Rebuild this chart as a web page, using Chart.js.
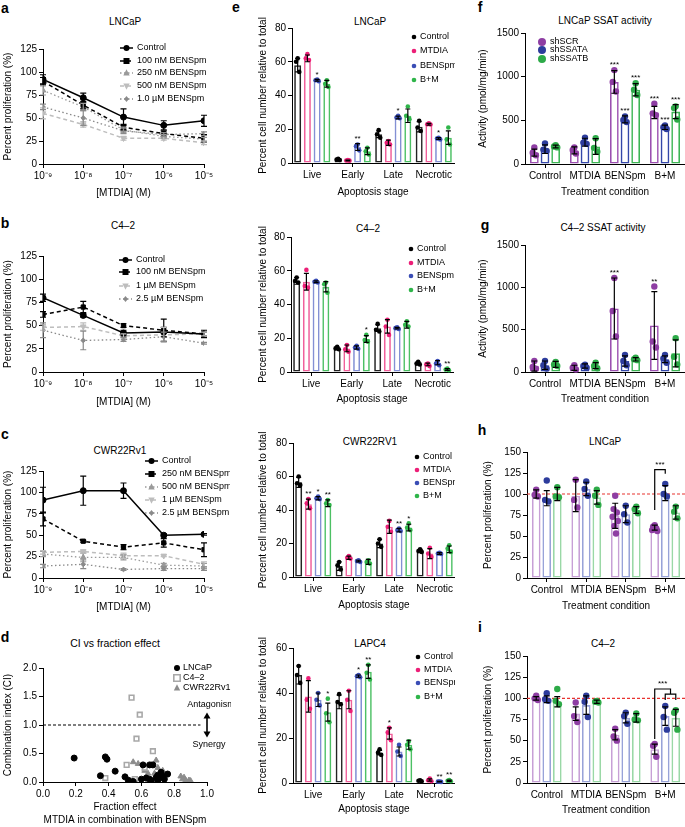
<!DOCTYPE html>
<html>
<head>
<meta charset="utf-8">
<script src="https://cdn.jsdelivr.net/npm/chart.js@4.4.0/dist/chart.umd.min.js"></script>
<style>
body { margin:0; background:#fff; width:685px; height:827px; position:relative; overflow:hidden; font-family:"Liberation Sans", Arial, sans-serif; color:#000; }
canvas { position:absolute; }
.lbl { position:absolute; font-weight:bold; font-size:14px; transform:translate(-50%,-50%); }
.ttl { position:absolute; font-size:10px; transform:translate(-50%,-50%); white-space:nowrap; }
</style>
</head>
<body>
<div class="lbl" style="left:5px;top:8px">a</div>
<div class="lbl" style="left:5px;top:223px">b</div>
<div class="lbl" style="left:5px;top:434px">c</div>
<div class="lbl" style="left:5px;top:637px">d</div>
<div class="lbl" style="left:236px;top:7px">e</div>
<div class="lbl" style="left:480px;top:7px">f</div>
<div class="lbl" style="left:485px;top:225px">g</div>
<div class="lbl" style="left:482px;top:430px">h</div>
<div class="lbl" style="left:480px;top:627px">i</div>

<div class="ttl" style="left:125px;top:21px">LNCaP</div>
<div class="ttl" style="left:123px;top:225px">C4–2</div>
<div class="ttl" style="left:120px;top:450px">CWR22Rv1</div>
<div class="ttl" style="left:115px;top:643px;font-size:10.5px">CI vs fraction effect</div>
<div class="ttl" style="left:370px;top:21px">LNCaP</div>
<div class="ttl" style="left:368px;top:228px">C4–2</div>
<div class="ttl" style="left:370px;top:441px">CWR22RV1</div>
<div class="ttl" style="left:370px;top:643px">LAPC4</div>
<div class="ttl" style="left:605px;top:20px">LNCaP SSAT activity</div>
<div class="ttl" style="left:603px;top:227px">C4–2 SSAT activity</div>
<div class="ttl" style="left:605px;top:441px">LNCaP</div>
<div class="ttl" style="left:603px;top:643px">C4–2</div>

<script>
// ---- a-c: proliferation vs MTDIA dose ----
const doses = [1e-9, 1e-8, 1e-7, 1e-6, 1e-5];
const doseLabels = ['10⁻⁹', '10⁻⁸', '10⁻⁷', '10⁻⁶', '10⁻⁵'];

const lncapSeries = ['Control', '100 nM BENSpm', '250 nM BENSpm', '500 nM BENSpm', '1.0 µM BENSpm'];
const lncapMean = [
    [92, 72, 51, 42, 47],
    [90, 64, 40, 33, 28],
    [80, 62, 37, 30, 27],
    [55, 43, 28, 28, 23],
    [62, 50, 36, 32, 33]
];
const lncapErr = [
    [5, 5, 9, 5, 6],
    [4, 4, 3, 3, 4],
    [5, 4, 3, 2, 2],
    [6, 3, 2, 2, 2],
    [3, 8, 3, 2, 2]
];

const c42Series = ['Control', '100 nM BENSpm', '1 µM BENSpm', '2.5 µM BENSpm'];
const c42Mean = [
    [80, 61, 42, 43, 41],
    [62, 70, 50, 45, 41],
    [48, 49, 39, 40, 41],
    [45, 34, 35, 38, 31]
];
const c42Err = [
    [4, 2, 3, 5, 2],
    [3, 6, 2, 12, 4],
    [3, 4, 2, 8, 2],
    [8, 10, 2, 5, 1]
];

const cwrSeries = ['Control', '250 nM BENSpm', '500 nM BENSpm', '1 µM BENSpm', '2.5 µM BENSpm'];
const cwrMean = [
    [91, 102, 102, 50, 51],
    [69, 43, 36, 41, 33],
    [28, 24, 24, 15, 14],
    [30, 31, 26, 26, 16],
    [14, 16, 10, 11, 11]
];
const cwrErr = [
    [15, 17, 9, 2, 1],
    [8, 1, 3, 5, 8],
    [3, 5, 3, 2, 3],
    [2, 2, 3, 1, 3],
    [2, 5, 1, 2, 2]
];

// ---- d: combination index vs fraction effect ----
const ciLncapFe = [0.19, 0.35, 0.38, 0.39, 0.44, 0.50, 0.52, 0.55, 0.60, 0.61, 0.63, 0.65, 0.65, 0.66, 0.67, 0.69, 0.70, 0.71, 0.72, 0.73, 0.74, 0.76, 0.70, 0.72];
const ciLncapCi = [0.42, 0.11, 0.44, 0.40, 0.19, 0.09, 0.03, 0.01, 0.05, 0.30, 0.07, 0.30, 0.05, 0.02, 0.30, 0.08, 0.12, 0.07, 0.13, 0.10, 0.05, 0.14, 0.03, 0.17];
const ciC42Fe = [0.38, 0.51, 0.52, 0.53, 0.54, 0.56, 0.57, 0.59, 0.62, 0.67, 0.64, 0.66];
const ciC42Ci = [0.07, 0.30, 0.03, 0.01, 1.48, 0.05, 0.76, 1.18, 0.25, 0.54, 0.04, 0.03];
const ciCwrFe = [0.55, 0.58, 0.62, 0.64, 0.66, 0.68, 0.69, 0.70, 0.72, 0.73, 0.75, 0.84, 0.85, 0.86, 0.87, 0.89, 0.90];
const ciCwrCi = [0.35, 0.32, 0.20, 0.15, 0.30, 0.15, 0.38, 0.25, 0.10, 0.20, 0.12, 0.10, 0.05, 0.08, 0.03, 0.03, 0.02];

// ---- e: apoptosis stage ----
const stages = ['Live', 'Early', 'Late', 'Necrotic'];
const treatments = ['Control', 'MTDIA', 'BENSpm', 'B+M'];

const eLncapMean = [[58, 2, 17, 21.5], [62, 1.5, 12, 23], [49, 9.5, 27, 14.5], [47, 7, 28, 15]];
const eLncapErr = [[4, 0.5, 2, 3], [2, 0.2, 1.5, 0.5], [0.5, 2, 0.8, 0.5], [2, 2, 4, 4]];
const eLncapPts = [
    [[62, 60, 54], [2.5, 2, 1.8], [19.5, 17, 15], [25, 21, 19]],
    [[64.5, 62, 61], [1.7, 1.5, 1.4], [13, 12, 11], [23.5, 23, 22.8]],
    [[49.5, 49, 48.5], [11, 10, 7.5], [28, 27, 26.5], [15, 14.5, 14]],
    [[49, 47, 45], [9, 7, 5], [33.5, 28, 26], [21, 14, 11]]
];
const eLncapStars = [['', '', '', ''], ['', '', '', ''], ['*', '**', '*', '*'], ['', '', '', '']];

const eC42Mean = [[54, 14, 26, 5], [53.5, 14, 27, 4.5], [53.5, 14.5, 26, 5.5], [50.5, 19.5, 28, 1.5]];
const eC42Err = [[2, 0.8, 2, 0.8], [5, 2, 4, 0.8], [0.5, 1, 0.5, 1.2], [3, 2, 2, 0.5]];
const eC42Pts = [
    [[56, 54, 53], [15, 14, 13.5], [28.5, 25, 24], [6, 5, 4.5]],
    [[60.5, 51, 50], [16, 13.5, 12], [31, 27, 22], [5, 4.5, 3.5]],
    [[54, 53.5, 53], [15.5, 14.5, 13.8], [26.5, 26, 25.5], [6.5, 5, 4]],
    [[53, 52, 47], [22, 19, 18], [30, 28, 27], [2, 1.5, 1]]
];
const eC42Stars = [['', '', '', ''], ['', '', '', ''], ['', '', '', ''], ['', '*', '', '**']];

const eCwrMean = [[56.5, 6.5, 20, 15.5], [43.5, 11.5, 30, 14], [47, 9.5, 28, 14], [44, 9, 29.5, 16.5]];
const eCwrErr = [[3, 2.5, 2.5, 1], [3, 1, 4, 3], [1, 0.5, 1, 0.5], [2, 1.5, 2, 2]];
const eCwrPts = [
    [[60, 56, 55], [9, 7, 4.5], [22.5, 20, 18], [16.5, 15.5, 15]],
    [[46.5, 44, 41], [12.5, 11.5, 11], [33.5, 30, 27], [17.5, 14, 12]],
    [[48, 47, 46.5], [10, 9.5, 9], [29, 28, 27.5], [14.5, 14, 13.8]],
    [[46, 44, 43], [10, 9, 8], [32, 29.5, 28], [19, 17, 15]]
];
const eCwrStars = [['', '', '', ''], ['**', '', '', ''], ['*', '', '**', ''], ['**', '', '*', '']];

const eLapcMean = [[48, 36, 13.5, 1], [38.5, 37, 22, 1.3], [37, 47.5, 14, 0.6], [31.5, 49.5, 17, 1]];
const eLapcErr = [[4, 3, 1, 0.2], [7, 4, 2.5, 0.5], [3, 0.5, 2, 0.1], [4, 3, 2, 0.3]];
const eLapcPts = [
    [[52, 48, 44.5], [39.5, 36, 35], [15, 13.5, 12.5], [1.2, 1, 0.8]],
    [[46.5, 37, 33], [41, 37, 32], [24.5, 22.5, 19], [2, 1.2, 0.8]],
    [[40, 37, 34.5], [48, 47.5, 47], [17, 14, 12], [0.7, 0.6, 0.5]],
    [[37.5, 31, 27], [52.5, 49, 46], [18.5, 17, 15], [1.3, 1, 0.8]]
];
const eLapcStars = [['', '', '', ''], ['', '', '*', ''], ['', '*', '', '**'], ['*', '**', '', '**']];

// ---- f-i: SSAT knockdown ----
const conditions = ['Control', 'MTDIA', 'BENSpm', 'B+M'];
const shLines = ['shSCR', 'shSSATA', 'shSSATB'];

const fMean = [[130, 155, 940, 590], [170, 250, 510, 420], [200, 200, 850, 600]];
const fErr = [[40, 40, 130, 70], [50, 45, 40, 25], [15, 90, 70, 80]];
const fPts = [
    [[190, 130, 100], [190, 160, 120], [1075, 940, 830], [690, 580, 560]],
    [[235, 165, 150], [300, 245, 230], [545, 505, 480], [440, 420, 400]],
    [[215, 200, 190], [295, 185, 140], [925, 850, 790], [660, 640, 510]]
];
const fStars = [['', '', '***', '***'], ['', '', '***', '***'], ['', '', '***', '***']];

const gMean = [[70, 50, 750, 550], [80, 70, 130, 150], [90, 75, 150, 220]];
const gErr = [[60, 30, 360, 400], [50, 25, 60, 40], [35, 35, 20, 160]];
const gPts = [
    [[130, 60, 40], [80, 50, 30], [1110, 720, 420], [1010, 360, 290]],
    [[130, 80, 40], [85, 70, 50], [200, 130, 80], [200, 160, 110]],
    [[120, 90, 70], [110, 70, 45], [170, 150, 140], [400, 180, 90]]
];
const gStars = [['', '', '***', '**'], ['', '', '', ''], ['', '', '', '']];

const hMean = [[100, 98, 74, 60], [95, 106, 76, 101], [100, 96, 81, 78]];
const hErr = [[5, 19, 15, 3], [9, 8, 10, 9], [8, 8, 4, 8]];
const hPts = [
    [[105, 99, 97], [117, 93, 84], [98, 82, 78, 73, 68, 62, 53], [63, 61, 59, 57, 56]],
    [[116, 93, 91], [115, 106, 98], [86, 76, 66], [112, 100, 97]],
    [[108, 97, 96], [105, 98, 87], [85, 82, 77], [85, 79, 71]]
];

const iMean = [[100, 82, 57, 40], [99, 92, 77, 79], [96, 96, 77, 77]];
const iErr = [[2, 8, 6, 6], [4, 11, 6, 11], [6, 2, 5, 10]];
const iPts = [
    [[103, 100, 98], [95, 79, 72], [64, 55, 50], [46, 44, 31]],
    [[106, 99, 97], [103, 96, 78], [83, 79, 70], [91, 78, 63]],
    [[111, 97, 93], [97, 96, 95], [82, 75, 74], [86, 83, 63]]
];

// ---- styling ----
const FONT = '"Liberation Sans", Arial, sans-serif';
Chart.defaults.font.family = FONT;
Chart.defaults.font.size = 10;
Chart.defaults.color = '#000';
Chart.defaults.animation = false;
Chart.defaults.plugins.legend.display = false;
Chart.defaults.plugins.tooltip.enabled = false;

const lineStyles = {
    ctrl: {color: '#000', dash: [], point: 'circle', r: 3, rot: 0, w: 1.5},
    sq: {color: '#000', dash: [4, 3], point: 'rect', r: 3, rot: 0, w: 1.5},
    tri: {color: '#9a9a9a', dash: [1.5, 2.5], point: 'triangle', r: 3.2, rot: 0, w: 1.3},
    dtri: {color: '#bdbdbd', dash: [4, 3], point: 'triangle', r: 3.2, rot: 180, w: 1.5},
    star: {color: '#8a8a8a', dash: [1.5, 2.5], point: 'rectRot', r: 2.4, rot: 0, w: 1.3}
};
const eDot = ['#000', '#ec1f77', '#3a4db5', '#2fb54a'];
const eBar = ['#222', '#f0609b', '#8390d4', '#4cc064'];
const shDot = ['#8e3ea3', '#2d3c9c', '#2daa48'];
const shBarDark = ['#9b4fb0', '#3447a8', '#3cb554'];
const shBarLight = ['#c7a0d6', '#98a3d8', '#9ad8a6'];
const jitter = [0, -1.6, 1.6, -2.6, 2.6, -0.8, 0.8];

function mkCanvas(r) {
    const c = document.createElement('canvas');
    c.width = r.w; c.height = r.h;
    c.style.left = r.x + 'px'; c.style.top = r.y + 'px';
    c.style.width = r.w + 'px'; c.style.height = r.h + 'px';
    document.body.appendChild(c);
    return c;
}

function frame(r, p) {
    return {
        padding: {left: 0, top: p.t - r.y, right: r.x + r.w - p.r, bottom: 0},
        yW: p.l - r.x,
        xH: r.y + r.h - p.b
    };
}

function axisBase() {
    return {
        grid: {drawOnChartArea: false, drawTicks: true, tickLength: 4, color: '#000', lineWidth: 1},
        border: {display: true, color: '#000', width: 1},
        ticks: {color: '#000', font: {size: 10}, padding: 2, autoSkip: false, maxRotation: 0}
    };
}

function yAxis(fr, max, step, title, fmt) {
    const a = axisBase();
    a.min = 0; a.max = max;
    a.ticks.stepSize = step;
    a.ticks.callback = fmt || (v => String(v));
    a.title = {display: true, text: title, font: {size: 10}, padding: {top: 2, bottom: 0}};
    a.afterFit = s => { s.width = fr.yW; };
    return a;
}

function catAxis(fr, title) {
    const a = axisBase();
    a.type = 'category';
    a.offset = true;
    a.grid.offset = false;
    a.title = {display: true, text: title, font: {size: 10}, padding: {top: 0, bottom: 2}};
    a.afterFit = s => { s.height = fr.xH; };
    return a;
}

function marker(ctx, style, r, rot, x, y, fill, stroke, lw) {
    ctx.save();
    ctx.translate(x, y);
    ctx.rotate(rot * Math.PI / 180);
    ctx.beginPath();
    if (style === 'circle') ctx.arc(0, 0, r, 0, Math.PI * 2);
    else if (style === 'rect') ctx.rect(-r, -r, 2 * r, 2 * r);
    else if (style === 'triangle') { ctx.moveTo(0, -r * 1.15); ctx.lineTo(r, r * 0.75); ctx.lineTo(-r, r * 0.75); ctx.closePath(); }
    else if (style === 'rectRot') { ctx.moveTo(0, -r * 1.3); ctx.lineTo(r, 0); ctx.lineTo(0, r * 1.3); ctx.lineTo(-r, 0); ctx.closePath(); }
    if (fill) { ctx.fillStyle = fill; ctx.fill(); }
    if (stroke) { ctx.strokeStyle = stroke; ctx.lineWidth = lw; ctx.stroke(); }
    ctx.restore();
}

function drawErrors(chart, color, cap) {
    const ctx = chart.ctx, ys = chart.scales.y;
    chart.data.datasets.forEach((ds, di) => {
        const meta = chart.getDatasetMeta(di);
        ctx.save();
        ctx.strokeStyle = color || ds.borderColor;
        ctx.lineWidth = 1.2;
        meta.data.forEach((el, i) => {
            const e = ds.errors[i];
            if (!e) return;
            const y1 = ys.getPixelForValue(ds.vals[i] - e);
            const y2 = ys.getPixelForValue(ds.vals[i] + e);
            ctx.beginPath();
            ctx.moveTo(el.x, y1); ctx.lineTo(el.x, y2);
            ctx.moveTo(el.x - cap, y1); ctx.lineTo(el.x + cap, y1);
            ctx.moveTo(el.x - cap, y2); ctx.lineTo(el.x + cap, y2);
            ctx.stroke();
        });
        ctx.restore();
    });
}

function drawDots(chart, pts, colors, rad) {
    const ctx = chart.ctx, ys = chart.scales.y;
    chart.data.datasets.forEach((ds, di) => {
        chart.getDatasetMeta(di).data.forEach((bar, j) => {
            pts[di][j].forEach((v, k) => {
                marker(ctx, 'circle', rad, 0, bar.x + jitter[k % jitter.length], ys.getPixelForValue(v), colors[di]);
            });
        });
    });
}

function drawStars(chart, pts, stars) {
    const ctx = chart.ctx, ys = chart.scales.y;
    ctx.save();
    ctx.fillStyle = '#000';
    ctx.font = '8px ' + FONT;
    ctx.textAlign = 'center';
    ctx.textBaseline = 'bottom';
    chart.data.datasets.forEach((ds, di) => {
        chart.getDatasetMeta(di).data.forEach((bar, j) => {
            const s = stars[di][j];
            if (!s) return;
            const top = Math.max(ds.vals[j] + ds.errors[j], Math.max.apply(null, pts[di][j]));
            ctx.fillText(s, bar.x, ys.getPixelForValue(top) - 1);
        });
    });
    ctx.restore();
}

function drawDotLegend(chart, r, lg, names, colors) {
    const ctx = chart.ctx;
    ctx.save();
    ctx.font = lg.font + 'px ' + FONT;
    ctx.textBaseline = 'middle';
    ctx.textAlign = 'left';
    names.forEach((n, i) => {
        const y = lg.ys[i] - r.y;
        marker(ctx, 'circle', lg.r, 0, lg.x - r.x, y, colors[i]);
        ctx.fillStyle = '#000';
        ctx.fillText(n, lg.tx - r.x, y);
    });
    ctx.restore();
}

function drawLineLegend(chart, r, lg) {
    const ctx = chart.ctx;
    chart.data.datasets.forEach((ds, i) => {
        const st = ds.sty, y = lg.ys[i] - r.y, x1 = lg.x1 - r.x, x2 = lg.x2 - r.x;
        ctx.save();
        ctx.strokeStyle = st.color;
        ctx.lineWidth = st.w;
        ctx.setLineDash(st.dash);
        ctx.beginPath(); ctx.moveTo(x1, y); ctx.lineTo(x2, y); ctx.stroke();
        ctx.setLineDash([]);
        marker(ctx, st.point, st.r, st.rot, (x1 + x2) / 2, y, st.color);
        ctx.fillStyle = '#000';
        ctx.font = '9px ' + FONT;
        ctx.textBaseline = 'middle';
        ctx.fillText(ds.label, lg.tx - r.x, y);
        ctx.restore();
    });
}

function doseChart(r, p, series, means, errs, styleKeys, lg) {
    const fr = frame(r, p);
    const datasets = series.map((name, i) => {
        const st = lineStyles[styleKeys[i]];
        return {
            label: name,
            data: doses.map((x, j) => ({x: x, y: means[i][j]})),
            vals: means[i],
            errors: errs[i],
            sty: st,
            borderColor: st.color,
            backgroundColor: st.color,
            borderDash: st.dash,
            borderWidth: st.w,
            pointStyle: st.point,
            pointRadius: st.r,
            pointRotation: st.rot,
            pointBackgroundColor: st.color,
            pointBorderColor: st.color,
            pointBorderWidth: 1,
            tension: 0
        };
    });
    const x = axisBase();
    x.type = 'logarithmic';
    x.min = 1e-9; x.max = 1e-5;
    x.afterBuildTicks = s => { s.ticks = doses.map(v => ({value: v})); };
    x.ticks.callback = (v, i) => doseLabels[i];
    x.title = {display: true, text: '[MTDIA] (M)', font: {size: 10}, padding: {top: 0, bottom: 2}};
    x.afterFit = s => { s.height = fr.xH; };

    new Chart(mkCanvas(r), {
        type: 'line',
        data: {datasets: datasets},
        options: {
            responsive: false,
            layout: {padding: fr.padding},
            scales: {x: x, y: yAxis(fr, 125, 25, 'Percent proliferation (%)')}
        },
        plugins: [{
            id: 'extras',
            afterDatasetsDraw(chart) {
                drawErrors(chart, null, 3);
                drawLineLegend(chart, r, lg);
            }
        }]
    });
}

function barChart(o) {
    const fr = frame(o.r, o.p);
    const datasets = o.names.map((n, i) => ({
        label: n,
        data: o.mean[i],
        vals: o.mean[i],
        errors: o.err[i],
        backgroundColor: 'rgba(255,255,255,0)',
        borderColor: o.barColors[i],
        borderWidth: 1.6,
        borderSkipped: false,
        categoryPercentage: o.catPct,
        barPercentage: o.barPct
    }));
    new Chart(mkCanvas(o.r), {
        type: 'bar',
        data: {labels: o.cats, datasets: datasets},
        options: {
            responsive: false,
            layout: {padding: fr.padding},
            scales: {x: catAxis(fr, o.xTitle), y: yAxis(fr, o.yMax, o.yStep, o.yTitle)}
        },
        plugins: [{
            id: 'extras',
            afterDatasetsDraw(chart) {
                if (o.before) o.before(chart);
                drawDots(chart, o.pts, o.dotColors, o.dotR);
                drawErrors(chart, '#000', o.cap);
                if (o.stars) drawStars(chart, o.pts, o.stars);
                drawDotLegend(chart, o.r, o.legend, o.names, o.dotColors);
                if (o.after) o.after(chart);
            }
        }]
    });
}

// ---- a, b, c ----
doseChart({x: 0, y: 30, w: 230, h: 171}, {l: 43, t: 49, r: 204, b: 164},
    lncapSeries, lncapMean, lncapErr, ['ctrl', 'sq', 'tri', 'dtri', 'star'],
    {x1: 120, x2: 133, tx: 137, ys: [48, 61, 73, 86, 99]});

doseChart({x: 0, y: 240, w: 230, h: 170}, {l: 43, t: 256, r: 204, b: 372},
    c42Series, c42Mean, c42Err, ['ctrl', 'sq', 'dtri', 'star'],
    {x1: 119, x2: 132, tx: 136, ys: [260, 272, 286, 299]});

doseChart({x: 0, y: 455, w: 230, h: 160}, {l: 43, t: 471, r: 204, b: 578},
    cwrSeries, cwrMean, cwrErr, ['ctrl', 'sq', 'tri', 'dtri', 'star'],
    {x1: 145, x2: 158, tx: 162, ys: [461, 474, 487, 500, 513]});

// ---- d ----
(function () {
    const r = {x: 0, y: 655, w: 231, h: 172}, p = {l: 43, t: 668, r: 207, b: 782};
    const fr = frame(r, p);
    const toXY = (xs, ys) => xs.map((v, i) => ({x: v, y: ys[i]}));
    const x = axisBase();
    x.type = 'linear'; x.min = 0; x.max = 1;
    x.ticks.stepSize = 0.2;
    x.ticks.callback = v => v.toFixed(1);
    x.title = {display: true, text: ['Fraction effect', 'MTDIA in combination with BENSpm'],
        font: {size: 10, lineHeight: 1.3}, padding: {top: 0, bottom: 0}};
    x.afterFit = s => { s.height = fr.xH; };
    const y = yAxis(fr, 2, 0.5, 'Combination index (CI)', v => v.toFixed(1));
    const sets = [
        {label: 'LNCaP', data: toXY(ciLncapFe, ciLncapCi), pointStyle: 'circle', pointRadius: 3,
            pointBackgroundColor: '#000', pointBorderColor: '#000', pointBorderWidth: 1},
        {label: 'C4–2', data: toXY(ciC42Fe, ciC42Ci), pointStyle: 'rect', pointRadius: 3.3,
            pointBackgroundColor: '#fff', pointBorderColor: '#a8a8a8', pointBorderWidth: 1.6},
        {label: 'CWR22Rv1', data: toXY(ciCwrFe, ciCwrCi), pointStyle: 'triangle', pointRadius: 3.3,
            pointBackgroundColor: '#8c8c8c', pointBorderColor: '#8c8c8c', pointBorderWidth: 1}
    ];
    new Chart(mkCanvas(r), {
        type: 'scatter',
        data: {datasets: sets},
        options: {responsive: false, layout: {padding: fr.padding}, scales: {x: x, y: y}},
        plugins: [{
            id: 'extras',
            beforeDatasetsDraw(chart) {
                const ctx = chart.ctx, xs = chart.scales.x, ys = chart.scales.y;
                const y1 = ys.getPixelForValue(1);
                ctx.save();
                ctx.strokeStyle = '#000'; ctx.lineWidth = 1.2; ctx.setLineDash([3, 2]);
                ctx.beginPath(); ctx.moveTo(xs.getPixelForValue(0), y1); ctx.lineTo(xs.getPixelForValue(0.96), y1); ctx.stroke();
                ctx.restore();
            },
            afterDatasetsDraw(chart) {
                const ctx = chart.ctx, xs = chart.scales.x, ys = chart.scales.y;
                const ax = xs.getPixelForValue(1), yt = ys.getPixelForValue(1.22), yb = ys.getPixelForValue(0.78);
                ctx.save();
                ctx.strokeStyle = '#000'; ctx.fillStyle = '#000'; ctx.lineWidth = 1.6;
                ctx.beginPath(); ctx.moveTo(ax, yt + 4); ctx.lineTo(ax, yb - 4); ctx.stroke();
                ctx.beginPath(); ctx.moveTo(ax, yt); ctx.lineTo(ax - 3.5, yt + 6); ctx.lineTo(ax + 3.5, yt + 6); ctx.closePath(); ctx.fill();
                ctx.beginPath(); ctx.moveTo(ax, yb); ctx.lineTo(ax - 3.5, yb - 6); ctx.lineTo(ax + 3.5, yb - 6); ctx.closePath(); ctx.fill();
                ctx.font = '9px ' + FONT; ctx.textAlign = 'center'; ctx.textBaseline = 'middle';
                ctx.fillText('Antagonism', ax + 4, ys.getPixelForValue(1.36));
                ctx.fillText('Synergy', ax + 2, ys.getPixelForValue(0.66));
                // legend
                const lx = 177 - r.x, tx = 183 - r.x, lys = [668, 678, 688];
                marker(ctx, 'circle', 3, 0, lx, lys[0] - r.y, '#000');
                marker(ctx, 'rect', 3.2, 0, lx, lys[1] - r.y, '#fff', '#a8a8a8', 1.6);
                marker(ctx, 'triangle', 3.2, 0, lx, lys[2] - r.y, '#8c8c8c');
                ctx.textAlign = 'left'; ctx.fillStyle = '#000';
                sets.forEach((s, i) => ctx.fillText(s.label, tx, lys[i] - r.y));
                ctx.restore();
            }
        }]
    });
})();

// ---- e ----
const eCommon = {cats: stages, names: treatments, dotColors: eDot, barColors: eBar, catPct: 0.96, barPct: 0.72,
    dotR: 2.3, cap: 2.5, xTitle: 'Apoptosis stage', yTitle: 'Percent cell number relative to total', yStep: 20};

barChart(Object.assign({}, eCommon, {
    r: {x: 255, y: 15, w: 200, h: 185}, p: {l: 292, t: 28, r: 454, b: 163}, yMax: 80,
    mean: eLncapMean, err: eLncapErr, pts: eLncapPts, stars: eLncapStars,
    legend: {x: 414, tx: 420, ys: [37, 51, 66, 80], r: 2.3, font: 9}
}));
barChart(Object.assign({}, eCommon, {
    r: {x: 255, y: 225, w: 200, h: 182}, p: {l: 291, t: 237, r: 453, b: 372}, yMax: 80,
    mean: eC42Mean, err: eC42Err, pts: eC42Pts, stars: eC42Stars,
    legend: {x: 411, tx: 417, ys: [249, 263, 276, 290], r: 2.3, font: 9}
}));
barChart(Object.assign({}, eCommon, {
    r: {x: 255, y: 430, w: 200, h: 183}, p: {l: 293, t: 443, r: 455, b: 577}, yMax: 80,
    mean: eCwrMean, err: eCwrErr, pts: eCwrPts, stars: eCwrStars,
    legend: {x: 417, tx: 423, ys: [457, 470, 483, 496], r: 2.3, font: 9}
}));
barChart(Object.assign({}, eCommon, {
    r: {x: 255, y: 635, w: 200, h: 182}, p: {l: 293, t: 648, r: 455, b: 783}, yMax: 60,
    mean: eLapcMean, err: eLapcErr, pts: eLapcPts, stars: eLapcStars,
    legend: {x: 418, tx: 424, ys: [657, 670, 683, 697], r: 2.3, font: 9}
}));

// ---- f-i ----
function refLine(chart) {
    const ctx = chart.ctx, y = chart.scales.y.getPixelForValue(100), a = chart.chartArea;
    ctx.save();
    ctx.strokeStyle = '#e8332f'; ctx.lineWidth = 1.1; ctx.setLineDash([3, 2]);
    ctx.beginPath(); ctx.moveTo(a.left, y); ctx.lineTo(a.right, y); ctx.stroke();
    ctx.restore();
}

function barX(chart, di, j) {
    return chart.getDatasetMeta(di).data[j].x;
}

const shCommon = {cats: conditions, names: shLines, dotColors: shDot, catPct: 0.8, barPct: 0.82,
    dotR: 3.2, cap: 3, xTitle: 'Treatment condition'};
const noLegend = {x: -50, tx: -50, ys: [], r: 0, font: 9};

barChart(Object.assign({}, shCommon, {
    r: {x: 475, y: 15, w: 210, h: 185}, p: {l: 525, t: 33, r: 685, b: 164},
    yMax: 1500, yStep: 500, yTitle: 'Activity (pmol/mg/min)', barColors: shBarDark,
    mean: fMean, err: fErr, pts: fPts, stars: fStars,
    legend: {x: 542, tx: 550, ys: [42, 50, 59], r: 4, font: 9}
}));
barChart(Object.assign({}, shCommon, {
    r: {x: 475, y: 235, w: 210, h: 172}, p: {l: 525, t: 245, r: 685, b: 372},
    yMax: 1500, yStep: 500, yTitle: 'Activity (pmol/mg/min)', barColors: shBarDark,
    mean: gMean, err: gErr, pts: gPts, stars: gStars,
    legend: {x: -50, tx: -50, ys: [-50, -50, -50], r: 0, font: 9}
}));
barChart(Object.assign({}, shCommon, {
    r: {x: 480, y: 440, w: 205, h: 174}, p: {l: 527, t: 452, r: 685, b: 578},
    yMax: 150, yStep: 25, yTitle: 'Percent proliferation (%)', barColors: shBarLight,
    mean: hMean, err: hErr, pts: hPts,
    legend: {x: -50, tx: -50, ys: [-50, -50, -50], r: 0, font: 9},
    before: refLine,
    after(chart) {
        const ctx = chart.ctx, ys = chart.scales.y;
        const x1 = barX(chart, 0, 3), x2 = barX(chart, 1, 3);
        const top = ys.getPixelForValue(129);
        ctx.save();
        ctx.strokeStyle = '#000'; ctx.lineWidth = 1.2;
        ctx.beginPath();
        ctx.moveTo(x1, ys.getPixelForValue(81)); ctx.lineTo(x1, top); ctx.lineTo(x2, top); ctx.lineTo(x2, ys.getPixelForValue(124));
        ctx.stroke();
        ctx.fillStyle = '#000'; ctx.font = '8px ' + FONT; ctx.textAlign = 'center'; ctx.textBaseline = 'bottom';
        ctx.fillText('***', (x1 + x2) / 2, top - 1);
        ctx.restore();
    }
}));
barChart(Object.assign({}, shCommon, {
    r: {x: 480, y: 645, w: 205, h: 173}, p: {l: 527, t: 656, r: 685, b: 783},
    yMax: 150, yStep: 25, yTitle: 'Percent proliferation (%)', barColors: shBarLight,
    mean: iMean, err: iErr, pts: iPts,
    legend: {x: -50, tx: -50, ys: [-50, -50, -50], r: 0, font: 9},
    before: refLine,
    after(chart) {
        const ctx = chart.ctx, ys = chart.scales.y;
        const x1 = barX(chart, 0, 3), xa = barX(chart, 1, 3), xb = barX(chart, 2, 3), xm = (xa + xb) / 2;
        const top = ys.getPixelForValue(111), sub = ys.getPixelForValue(105), legs = ys.getPixelForValue(98);
        ctx.save();
        ctx.strokeStyle = '#000'; ctx.lineWidth = 1.2;
        ctx.beginPath();
        ctx.moveTo(x1, ys.getPixelForValue(52)); ctx.lineTo(x1, top); ctx.lineTo(xm, top); ctx.lineTo(xm, sub);
        ctx.moveTo(xa, legs); ctx.lineTo(xa, sub); ctx.lineTo(xb, sub); ctx.lineTo(xb, legs);
        ctx.stroke();
        ctx.fillStyle = '#000'; ctx.font = '8px ' + FONT; ctx.textAlign = 'center'; ctx.textBaseline = 'bottom';
        ctx.fillText('***', (x1 + xm) / 2, top - 1);
        ctx.restore();
    }
}));
</script>
</body>
</html>
